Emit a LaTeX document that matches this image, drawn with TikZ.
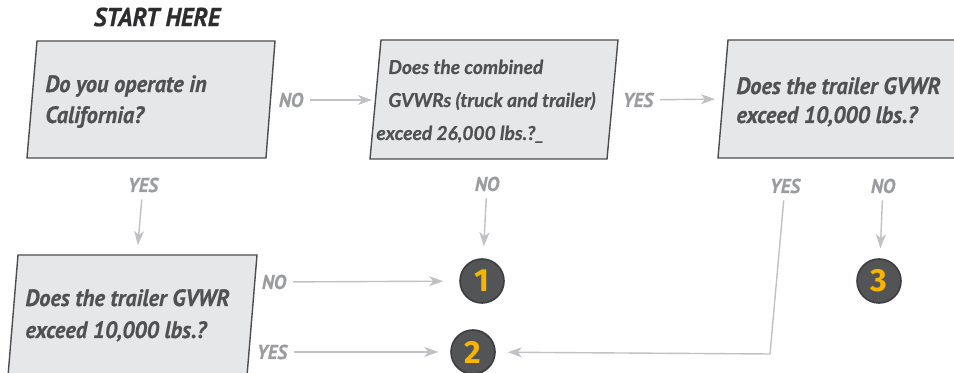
\documentclass[tikz,border=0pt]{standalone}
\usepackage{fontspec}
\setmainfont{PT Sans}
\newfontfamily\qfont[FakeStretch=0.95, BoldItalicFeatures={FakeBold=0.6}]{PT Sans}
\newfontfamily\latofont[BoldItalicFeatures={FakeBold=0.6}]{Lato}
\newfontfamily\numfont{Fira Sans}
\usetikzlibrary{arrows.meta,positioning,calc}

\definecolor{boxfill}{RGB}{230,231,232}
\definecolor{boxline}{RGB}{77,77,79}
\definecolor{qtextcol}{RGB}{80,81,83}
\definecolor{labelgray}{RGB}{155,156,159}
\definecolor{arrowgray}{RGB}{192,193,196}
\definecolor{circfill}{RGB}{83,84,86}
\definecolor{circline}{RGB}{62,62,64}
\definecolor{numyellow}{RGB}{247,181,0}
\definecolor{starttext}{RGB}{45,45,47}

\tikzset{
    qbox/.style={draw=boxline, fill=boxfill, line width=0.7pt, line join=miter},
    qtext/.style={anchor=base west, align=left, text=qtextcol, inner sep=0pt},
    answer/.style={text=labelgray, font=\qfont\bfseries\itshape\fontsize{10}{12}\selectfont},
    result/.style={circle, draw=circline, fill=circfill, line width=0.8pt,
        minimum size=22pt, inner sep=0pt, text=numyellow,
        font=\numfont\bfseries\fontsize{16}{16}\selectfont},
    flow/.style={draw=arrowgray, line width=0.7pt, -{Stealth[length=7pt,width=5pt,inset=2pt]}},
}

\begin{document}
\begin{tikzpicture}[x=0.5pt, y=-0.5pt]
    \useasboundingbox (0,0) rectangle (954,373);
    \clip (0,0) rectangle (954,373);

    % question boxes
    \draw[qbox] (37,41) -- (275,41) -- (266,158) -- (27,158) -- cycle;
    \draw[qbox] (381,40) -- (618,40) -- (607,159) -- (370,159) -- cycle;
    \draw[qbox] (728,40) -- (966,40) -- (956,158) -- (718,158) -- cycle;
    \draw[qbox] (18,255) -- (257,255) -- (247,376) -- (8,376) -- cycle;
    \coordinate (q2_in) at (375,100);
    \coordinate (q3_in) at (723,99);
    \coordinate (q4_in) at (137,255);

    \node[text=starttext, font=\qfont\bfseries\itshape\fontsize{13}{15}\selectfont] (start) at (157,17) {START HERE};

    \node[qtext, font=\qfont\bfseries\itshape\fontsize{11.8}{15.5}\selectfont] (q1_text) at (45,123) {Do you operate in\\California?};
    \node[qtext, font=\latofont\bfseries\itshape\fontsize{9.6}{16.5}\selectfont] (q2_text) at (388,140) {Does the combined\\GVWRs (truck and trailer)\\\hspace*{-6pt}exceed 26,000 lbs.?\_};
    \node[qtext, font=\qfont\bfseries\itshape\fontsize{11.8}{14.5}\selectfont] (q3_text) at (736,123) {Does the trailer GVWR\\exceed 10,000 lbs.?};
    \node[qtext, font=\qfont\bfseries\itshape\fontsize{11.8}{16}\selectfont] (q4_text) at (25,338) {Does the trailer GVWR\\exceed 10,000 lbs.?};

    % answers
    \node[answer] (no_q1) at (291,100) {NO};
    \node[answer] (yes_q2) at (638,100) {YES};
    \node[answer] (yes_q1) at (143,185) {YES};
    \node[answer] (no_q2) at (487,184) {NO};
    \node[answer] (yes_q3) at (785,186) {YES};
    \node[answer] (no_q3) at (883,186) {NO};
    \node[answer] (no_q4) at (274,282) {NO};
    \node[answer] (yes_q4) at (272,352) {YES};

    % results
    \node[result] (r1) at (482,281) {1};
    \node[result] (r2) at (473,352) {2};
    \node[result] (r3) at (879,281) {3};

    \coordinate (bend) at (770,354);

    \draw[flow, shorten >=1.5pt] (no_q1) -- (q2_in);
    \draw[flow, shorten >=4pt] (yes_q2) -- (q3_in);
    \draw[flow, shorten >=5pt] (yes_q1) -- (q4_in);
    \draw[flow, shorten >=6pt] (no_q2) -- (r1);
    \draw[flow, shorten >=5pt] (no_q3) -- (r3);
    \draw[flow, shorten >=8pt] (no_q4) -- (r1);
    \draw[flow, shorten >=6pt] (yes_q4) -- (r2);
    \draw[flow, shorten >=6pt] (yes_q3) -- (bend) -- (r2);
\end{tikzpicture}
\end{document}
